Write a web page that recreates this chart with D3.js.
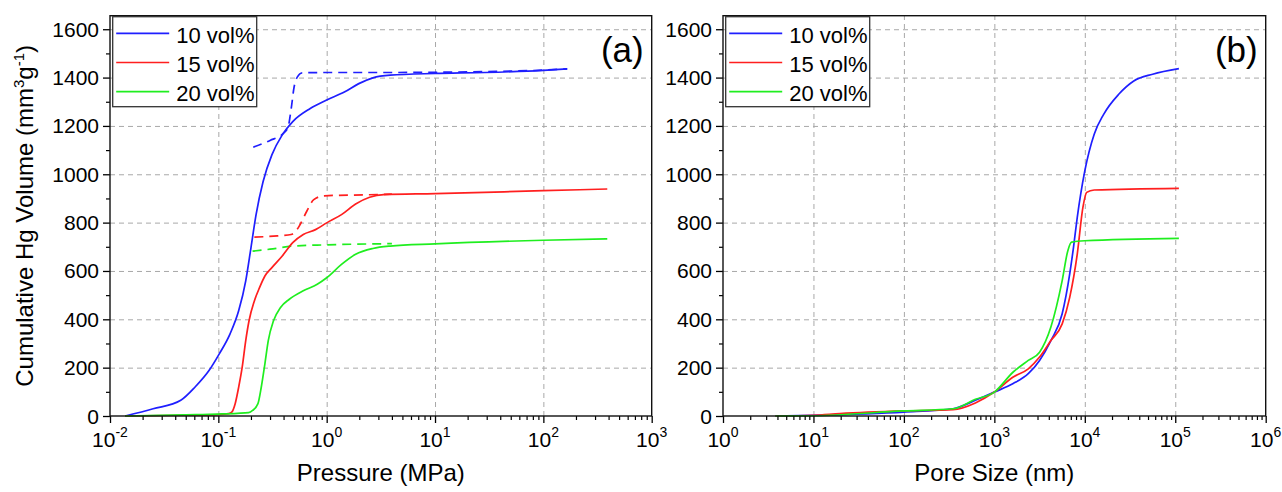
<!DOCTYPE html>
<html><head><meta charset="utf-8">
<script src="https://cdn.jsdelivr.net/npm/d3@7"></script>
<style>
body{margin:0;background:#fff}
svg text{font-family:"Liberation Sans",Arial,Helvetica,sans-serif;fill:#000}
</style>
</head><body>
<svg id="chart" width="1282" height="492"></svg>
<script>
// ---------------- DATA ----------------
const seriesNames = ["10 vol%", "15 vol%", "20 vol%"];
const yTicks = [0, 200, 400, 600, 800, 1000, 1200, 1400, 1600];
const yMinorTicks = [100, 300, 500, 700, 900, 1100, 1300, 1500];
const pressureDecades = [-2, -1, 0, 1, 2, 3];
const poreDecades = [0, 1, 2, 3, 4, 5, 6];

// Panel (a): intrusion (solid) and extrusion (dashed) vs pressure (MPa)
const intrP10 = [0.0138,0.025,0.045,0.061,0.082,0.102,0.128,0.154,0.179,0.2,0.223,0.259,0.312,0.389,0.486,0.705,1.0,1.47,1.98,2.67,3.86,10,28.9,100,166];
const intrV10 = [0,30,65,120,188,257,339,435,559,696,833,970,1080,1163,1218,1272,1307,1341,1375,1399,1410,1417,1421,1430,1436];
const extrP10 = [0.21,0.3,0.4,0.44,0.47,0.5,0.535,0.6,1,3,10,30,100,166];
const extrV10 = [1112,1140,1170,1195,1270,1360,1402,1420,1421,1421,1422,1425,1431,1436];

const intrP15 = [0.0138,0.05,0.1,0.125,0.133,0.143,0.154,0.166,0.179,0.192,0.215,0.24,0.269,0.312,0.389,0.486,0.608,0.789,1,1.37,1.85,2.49,3.36,10,100,389];
const intrV15 = [0,3,6,10,16,51,119,202,312,394,476,531,579,614,662,717,751,771,799,833,877,905,916,920,932,939];
const extrP15 = [0.215,0.35,0.47,0.53,0.565,0.655,0.76,0.95,2.32,4];
const extrV15 = [740,745,751,770,790,847,895,911,915,918];

const intrP20 = [0.0138,0.05,0.1,0.15,0.19,0.207,0.232,0.249,0.269,0.289,0.323,0.375,0.452,0.608,0.818,1,1.37,1.85,2.67,3.86,10,100,389];
const intrV20 = [0,5,8,11,14,23,51,119,216,312,394,449,483,518,545,572,627,669,693,703,712,727,733];
const extrP20 = [0.207,0.3,0.486,1,2.7,4];
const extrV20 = [682,690,703,708,712,713];

// Panel (b): cumulative volume vs pore size (nm)
const poreD10 = [3.8,10,100,350,617,1000,1616,2371,3162,4217,5623,6813,7500,8254,10000,12706,16156,23714,34808,56234,109700];
const poreV10 = [0,3,16,30,65,99,134,175,230,312,423,588,698,822,1014,1166,1248,1331,1386,1414,1437];
const poreD15 = [3.8,10,19.6,100,350,617,1000,1616,2371,3162,4217,5623,6813,8254,9528,10489,12706,109700];
const poreV15 = [0,3,10,21,26,54,99,161,195,244,312,381,491,670,863,925,935,942];
const poreD20 = [3.8,10,100,350,617,1000,1616,2371,3162,4217,5623,6494,7145,10000,109700];
const poreV20 = [0,1,21,30,69,99,182,230,264,368,560,684,719,725,735];

// ---------------- STYLE / LAYOUT ----------------
const colors = ["#1f1fff", "#ff1f1f", "#1fee1f"];
const svg = d3.select("#chart");
const plotTop = 15.7, plotBottom = 416;
const yDomainMax = 1656;
const y = d3.scaleLinear().domain([0, yDomainMax]).range([plotBottom, plotTop]);

function zip(a, b) { return a.map((v, i) => [v, b[i]]); }

function panel(opts) {
  const {left, right, decades, xTitle, tag, solids, dashed, clipId} = opts;
  const T = plotTop, B = plotBottom;
  const x = d3.scaleLog()
    .domain([Math.pow(10, decades[0]), Math.pow(10, decades[decades.length - 1])])
    .range([left, right]);
  const g = svg.append("g");
  const majors = decades.map(d => Math.pow(10, d));
  const minors = [];
  for (let i = 0; i < decades.length - 1; i++)
    for (let m = 2; m <= 9; m++) minors.push(m * Math.pow(10, decades[i]));

  // grid
  g.append("g").attr("transform", `translate(0,${B})`)
    .call(d3.axisBottom(x).tickValues(majors.slice(1, -1)).tickSize(-(B - T)).tickFormat(""))
    .call(s => s.select(".domain").remove())
    .selectAll("line").attr("stroke", "#a8a8a8").attr("stroke-dasharray", "5,4").attr("stroke-width", 1);
  g.append("g").attr("transform", `translate(${left},0)`)
    .call(d3.axisLeft(y).tickValues(yTicks.slice(1)).tickSize(-(right - left)).tickFormat(""))
    .call(s => s.select(".domain").remove())
    .selectAll("line").attr("stroke", "#a8a8a8").attr("stroke-dasharray", "5,4").attr("stroke-width", 1);

  // clip
  svg.append("clipPath").attr("id", clipId).append("rect")
    .attr("x", left).attr("y", T).attr("width", right - left).attr("height", B - T + 2);

  const line = d3.line().x(d => x(d[0])).y(d => y(d[1])).curve(d3.curveMonotoneX);
  const cg = g.append("g").attr("clip-path", `url(#${clipId})`);
  dashed.forEach((s, i) => {
    cg.append("path").datum(s).attr("d", line).attr("fill", "none")
      .attr("stroke", colors[i]).attr("stroke-width", 1.7).attr("stroke-dasharray", "9,6");
  });
  solids.forEach((s, i) => {
    cg.append("path").datum(s).attr("d", line).attr("fill", "none")
      .attr("stroke", colors[i]).attr("stroke-width", 1.7);
  });

  // axes ticks
  g.append("g").attr("transform", `translate(0,${B})`)
    .call(d3.axisBottom(x).tickValues(majors).tickSize(7).tickFormat(""))
    .call(s => s.select(".domain").remove())
    .selectAll("line").attr("stroke", "#000").attr("stroke-width", 1.3);
  g.append("g").attr("transform", `translate(0,${B})`)
    .call(d3.axisBottom(x).tickValues(minors).tickSize(4).tickFormat(""))
    .call(s => s.select(".domain").remove())
    .selectAll("line").attr("stroke", "#000").attr("stroke-width", 1.2);
  g.append("g").attr("transform", `translate(${left},0)`)
    .call(d3.axisLeft(y).tickValues(yTicks).tickSize(7).tickFormat(""))
    .call(s => s.select(".domain").remove())
    .selectAll("line").attr("stroke", "#000").attr("stroke-width", 1.3);
  g.append("g").attr("transform", `translate(${left},0)`)
    .call(d3.axisLeft(y).tickValues(yMinorTicks).tickSize(4).tickFormat(""))
    .call(s => s.select(".domain").remove())
    .selectAll("line").attr("stroke", "#000").attr("stroke-width", 1.2);

  // x tick labels with superscripts
  decades.forEach(d => {
    const t = g.append("text").attr("x", x(Math.pow(10, d))).attr("y", B + 31)
      .attr("text-anchor", "middle").style("font-size", "21px");
    t.append("tspan").text("10");
    t.append("tspan").attr("dy", -10).style("font-size", "14px").text(d < 0 ? "-" + (-d) : String(d));
  });
  // y tick labels
  yTicks.forEach(v => {
    g.append("text").attr("x", left - 11).attr("y", y(v) + 7.5)
      .attr("text-anchor", "end").style("font-size", "21px").text(v);
  });

  // frame
  g.append("rect").attr("x", left).attr("y", T).attr("width", right - left).attr("height", B - T)
    .attr("fill", "none").attr("stroke", "#111").attr("stroke-width", 1.4);

  // legend
  const lx = left + 2.7, ly = T + 1;
  const lg = g.append("g");
  lg.append("rect").attr("x", lx).attr("y", ly).attr("width", 144).attr("height", 90)
    .attr("fill", "#fff").attr("stroke", "#333").attr("stroke-width", 1.3);
  seriesNames.forEach((n, i) => {
    const yy = ly + 16.6 + i * 29.2;
    lg.append("line").attr("x1", lx + 3.5).attr("x2", lx + 56.5).attr("y1", yy).attr("y2", yy)
      .attr("stroke", colors[i]).attr("stroke-width", 1.7);
    lg.append("text").attr("x", lx + 63.5).attr("y", yy + 9.4).style("font-size", "22px").text(n);
  });

  // tag
  g.append("text").attr("x", right - 8).attr("y", 62).attr("text-anchor", "end")
    .style("font-size", "35px").text(tag);

  // x title
  g.append("text").attr("x", (left + right) / 2).attr("y", 481).attr("text-anchor", "middle")
    .style("font-size", "24px").text(xTitle);
}

panel({
  left: 110, right: 651.7, decades: pressureDecades, xTitle: "Pressure (MPa)", tag: "(a)", clipId: "clipA",
  solids: [zip(intrP10, intrV10), zip(intrP15, intrV15), zip(intrP20, intrV20)],
  dashed: [zip(extrP10, extrV10), zip(extrP15, extrV15), zip(extrP20, extrV20)]
});
panel({
  left: 723, right: 1265.7, decades: poreDecades, xTitle: "Pore Size (nm)", tag: "(b)", clipId: "clipB",
  solids: [zip(poreD10, poreV10), zip(poreD15, poreV15), zip(poreD20, poreV20)],
  dashed: []
});

// y title
const yt = svg.append("text").attr("transform", `translate(33,${(plotTop + plotBottom) / 2}) rotate(-90)`)
  .attr("text-anchor", "middle").style("font-size", "24px");
yt.append("tspan").text("Cumulative Hg Volume (mm");
yt.append("tspan").attr("dy", -9).style("font-size", "15px").text("3");
yt.append("tspan").attr("dy", 9).text("g");
yt.append("tspan").attr("dy", -9).style("font-size", "15px").text("-1");
yt.append("tspan").attr("dy", 9).text(")");
</script>
</body></html>
